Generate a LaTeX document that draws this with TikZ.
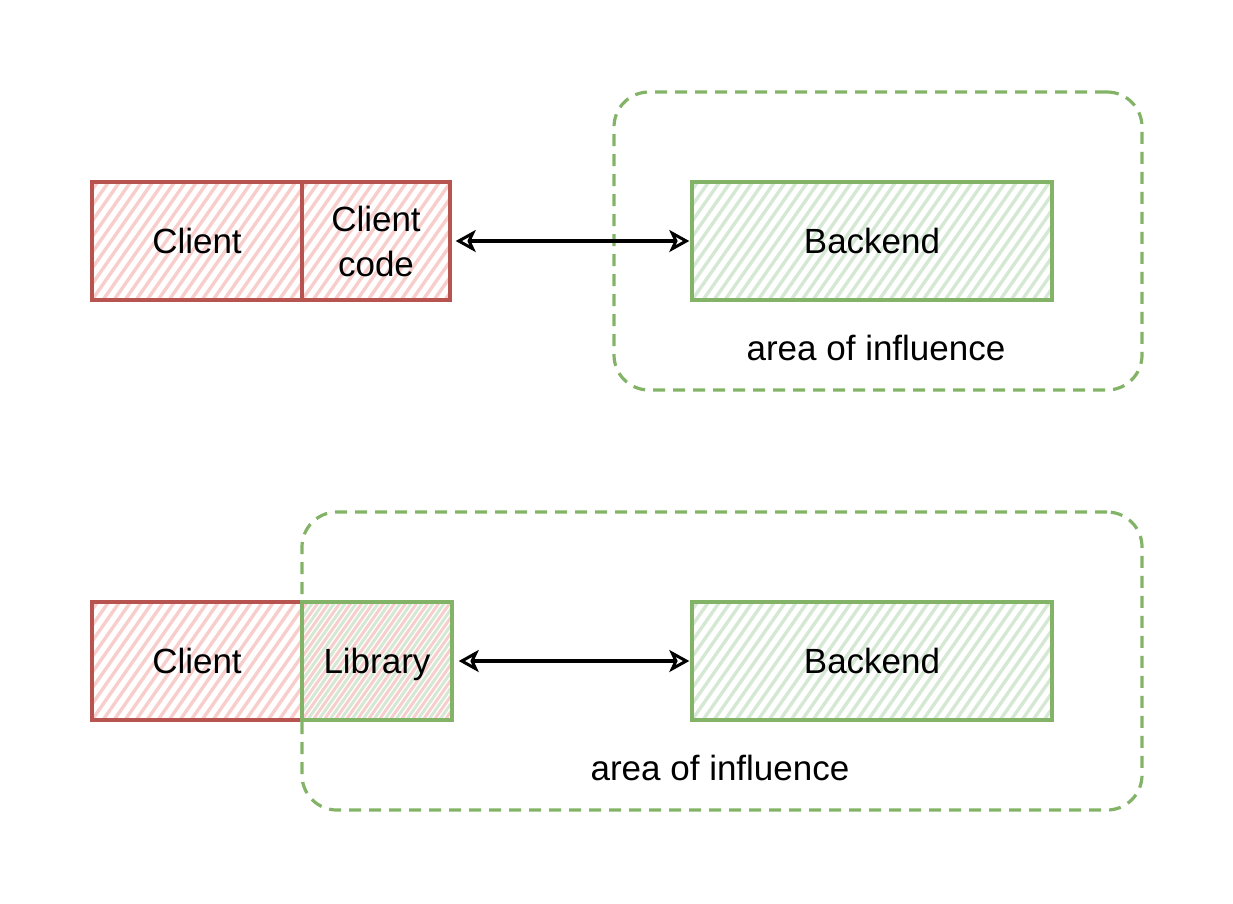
\documentclass[tikz,border=0pt]{standalone}
\usepackage{fontspec}
\setmainfont{Liberation Sans}
\usetikzlibrary{calc,arrows.meta}
\definecolor{redS}{HTML}{B85450}
\definecolor{redF}{HTML}{F8CECC}
\definecolor{greenS}{HTML}{82B366}
\definecolor{greenF}{HTML}{D5E8D4}
\tikzset{
  hatch/.style={path picture={\foreach \i in {-14,...,38}{\draw[#1,line width=3.4pt] ($(path picture bounding box.south west)+(\i*11pt,0)$) -- ++(55:220pt);}}},
  hatchtwo/.style 2 args={path picture={\foreach \i in {-14,...,38}{\draw[#1,line width=3pt] ($(path picture bounding box.south west)+(\i*11pt,0)$) -- ++(55:220pt);\draw[#2,line width=3pt] ($(path picture bounding box.south west)+(\i*11pt+5.5pt,0)$) -- ++(55:220pt);}}},
  box/.style={rectangle,draw,line width=3.4pt,inner sep=0pt,minimum height=118pt,align=center,font=\fontsize{35}{45}\selectfont},
  oneline/.style={text height=25pt,text depth=0pt},
  redbox/.style={box,draw=redS,hatch=redF},
  greenbox/.style={box,draw=greenS,hatch=greenF},
  area/.style={rectangle,draw=greenS,line width=3.2pt,dash pattern=on 12pt off 8pt,rounded corners=35pt,inner sep=0pt},
  lbl/.style={font=\fontsize{35}{45}\selectfont},
  link/.style={line width=3.2pt,{Stealth[open,length=20pt,width=22pt,inset=5pt,line width=3pt]}-{Stealth[open,length=20pt,width=22pt,inset=5pt,line width=3pt]}},
}
\begin{document}
\begin{tikzpicture}[x=1pt,y=-1pt]
\useasboundingbox (0,0) rectangle (1233,903);
% top
\node[area,minimum width=528pt,minimum height=298pt] (a1) at (878,241) {};
\node[redbox,oneline,minimum width=210pt] (c1) at (197,241) {Client};
\node[redbox,minimum width=148pt] (cc) at (376,241) {Client\\code};
\node[greenbox,oneline,minimum width=360pt] (b1) at (872,241) {Backend};
\node[lbl] (t1) at (876,348) {area of influence};
\draw[link,shorten <=4pt,shorten >=1pt] (cc.east) -- (b1.west);
% bottom
\node[area,minimum width=840pt,minimum height=298pt] (a2) at (722,661) {};
\node[redbox,oneline,minimum width=210pt] (c2) at (197,661) {Client};
\node[box,oneline,draw=greenS,hatchtwo={redF}{greenF},minimum width=150pt] (lib) at (377,661) {Library};
\node[greenbox,oneline,minimum width=360pt] (b2) at (872,661) {Backend};
\node[lbl] (t2) at (720,768) {area of influence};
\draw[link,shorten <=5pt,shorten >=1pt] (lib.east) -- (b2.west);
\end{tikzpicture}
\end{document}
